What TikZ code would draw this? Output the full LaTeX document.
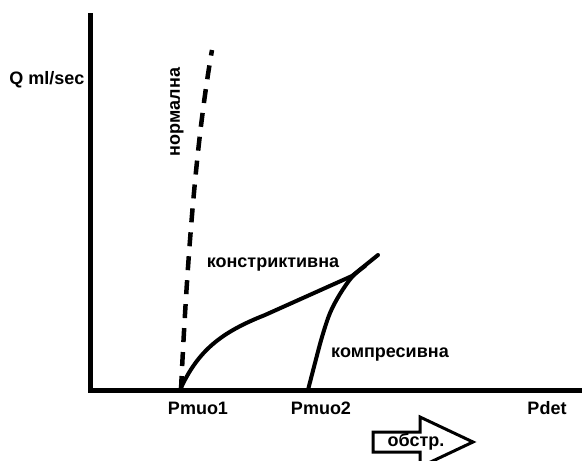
\documentclass[tikz,border=0pt]{standalone}
\usepackage{fontspec}
\setmainfont{Liberation Sans}
\begin{document}
\begin{tikzpicture}[x=1pt,y=-1pt,
  lbl/.style={font=\fontsize{18}{21}\selectfont\bfseries, inner sep=0pt, text=black},
  axisline/.style={line width=5pt},
  curveline/.style={line width=4pt, line join=round, line cap=round},
  dashline/.style={line width=4.5pt, dash pattern=on 14pt off 10pt},
  bigarrow/.style={line width=3pt, line join=miter, fill=white}]
\useasboundingbox (0,0) rectangle (582,461);
\clip (0,0) rectangle (582,461);
% axes
\coordinate (O) at (90,390);
\coordinate (ytop) at (90,13);
\coordinate (xend) at (584,390);
\draw[axisline] (ytop) -- (O) -- (xend);
% normal (dashed)
\coordinate (n0) at (181,390);
\coordinate (n1) at (212,50);
\draw[dashline] (n0) .. controls (188,240) and (198,130) .. (n1);
% constrictive
\coordinate (c0) at (180,390);
\coordinate (c1) at (265,315);
\coordinate (c2) at (352,276);
\coordinate (tip) at (378,255);
\draw[curveline] (c0) .. controls (198,350) and (222,332) .. (c1) -- (c2) -- (tip);
% compressive
\draw[curveline] plot[smooth, tension=0.55] coordinates {(308,390) (315,363) (322,337) (330,313) (340,294) (352,277) (365,266)};
% labels
\node[lbl] (q) at (47,80) {Q ml/sec};
\node[lbl, rotate=90] (norm) at (177,112) {нормална};
\node[lbl] (constr) at (273,265) {констриктивна};
\node[lbl] (compr) at (390,355) {компресивна};
\node[lbl] (p1) at (198,408) {Pmuo1};
\node[lbl] (p2) at (321,408) {Pmuo2};
\node[lbl] (pdet) at (547,408) {Pdet};
% big arrow
\draw[bigarrow] (373,432) -- (420,432) -- (420,417) -- (473,442) -- (420,467) -- (420,452) -- (373,452) -- cycle;
\node[lbl] (obstr) at (416,442) {обстр.};
\end{tikzpicture}
\end{document}
